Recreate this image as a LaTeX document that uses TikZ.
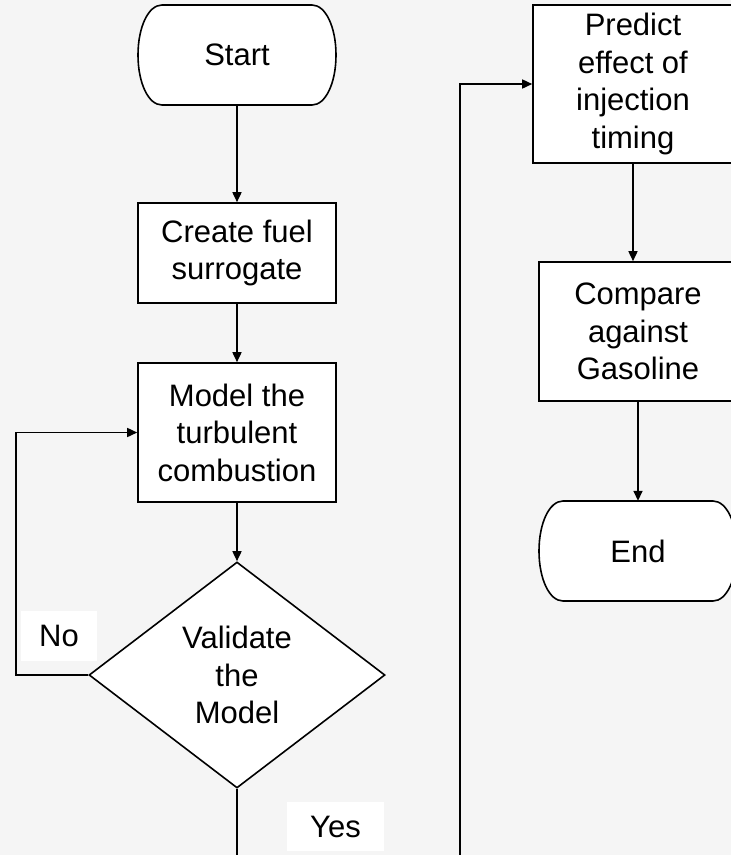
\documentclass[tikz,border=0pt]{standalone}
\usepackage{fontspec}
\setmainfont{Liberation Sans}
\usetikzlibrary{arrows.meta,shapes.geometric}
\definecolor{bg}{HTML}{F5F5F5}
\newcommand\termpath[1]{%
 \draw[termline] ([shift={(-75pt,50pt)}]#1) -- ([shift={(75pt,50pt)}]#1)
   .. controls ([shift={(88.8pt,50pt)}]#1) and ([shift={(99pt,27.6pt)}]#1) .. ([shift={(99pt,0pt)}]#1)
   .. controls ([shift={(99pt,-27.6pt)}]#1) and ([shift={(88.8pt,-50pt)}]#1) .. ([shift={(75pt,-50pt)}]#1)
   -- ([shift={(-75pt,-50pt)}]#1)
   .. controls ([shift={(-88.8pt,-50pt)}]#1) and ([shift={(-99pt,-27.6pt)}]#1) .. ([shift={(-99pt,0pt)}]#1)
   .. controls ([shift={(-99pt,27.6pt)}]#1) and ([shift={(-88.8pt,50pt)}]#1) .. cycle;}
\begin{document}
\begin{tikzpicture}[x=1pt,y=1pt,
  txt/.style={align=center,font=\fontsize{31}{37.5}\selectfont,inner sep=0pt},
  box/.style={txt,draw=black,fill=white,line width=1.6pt,minimum width=198pt},
  termline/.style={draw=black,fill=white,line width=1.6pt},
  termtext/.style={txt,minimum width=198pt,minimum height=100pt},
  dia/.style={txt,shape=diamond,aspect=1.3,draw=black,fill=white,line width=1.6pt,minimum width=296pt,minimum height=226pt},
  lbl/.style={txt,fill=white},
  arr/.style={draw=black,line width=1.6pt,-{Triangle[length=10pt,width=9pt]}}
]
\fill[bg] (0,0) rectangle (731,-855);
\useasboundingbox (0,0) rectangle (731,-855);

\coordinate (startc) at (237,-55);
\termpath{startc}
\node[termtext] (start) at (startc) {Start};

\node[box,minimum height=100pt] (create) at (237,-253) {Create fuel\\surrogate};
\node[box,minimum height=139pt] (model) at (237,-432.5) {Model the\\turbulent\\combustion};
\node[dia] (valid) at (237,-675) {Validate\\the\\Model};

\node[box,minimum width=200pt,minimum height=158pt] (predict) at (633,-84) {Predict\\effect of\\injection\\timing};
\node[box,minimum height=139pt] (compare) at (638,-331.5) {Compare\\against\\Gasoline};
\coordinate (endc) at (638,-551);
\termpath{endc}
\node[termtext] (end) at (endc) {End};

\draw[arr] (start) -- (create);
\draw[arr] (create) -- (model);
\draw[arr] (model) -- (valid);
\coordinate (loopL) at (16,-675);
\draw[arr] (valid.west) -- (loopL) |- (model.west);
\coordinate (yb1) at (237,-900);
\coordinate (yb2) at (460,-900);
\draw[arr] (valid.south) -- (yb1) -- (yb2) |- (predict.west);
\draw[arr] (predict.south) -- (predict.south |- compare.north);
\draw[arr] (compare) -- (end);

\node[lbl,minimum width=76pt,minimum height=50pt] (no) at (59,-636) {No};
\node[lbl,minimum width=97pt,minimum height=49pt] (yes) at (335.5,-826.5) {Yes};
\end{tikzpicture}
\end{document}
